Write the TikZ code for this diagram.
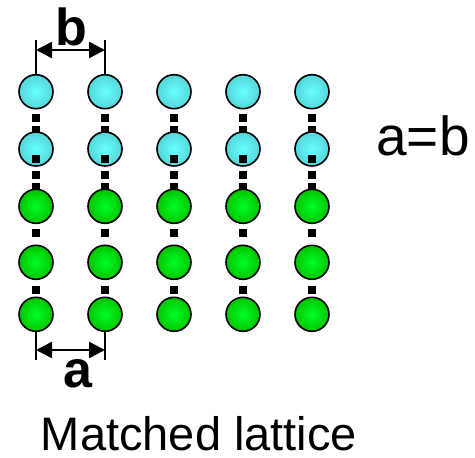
\documentclass[tikz,border=0pt]{standalone}
\usepackage{fontspec}
\setmainfont{Liberation Sans}
\usetikzlibrary{arrows.meta}

\definecolor{cyanin}{RGB}{104,255,255}
\definecolor{cyanout}{RGB}{84,214,218}
\definecolor{greenin}{RGB}{0,255,40}
\definecolor{greenout}{RGB}{0,196,0}

\tikzset{
  atom/.style={circle, draw=black, line width=1.6pt, minimum size=34pt, inner sep=0pt},
  topatom/.style={atom, inner color=cyanin, outer color=cyanout},
  botatom/.style={atom, inner color=greenin, outer color=greenout},
  bond/.style={fill=black, inner sep=0pt, minimum size=8pt},
  dimline/.style={line width=1.6pt},
  dimarrow/.style={line width=2.6pt, {Triangle[length=16pt,width=16pt]}-{Triangle[length=16pt,width=16pt]}},
}

\begin{document}
\begin{tikzpicture}[x=1pt, y=-1pt]
\useasboundingbox (0,0) rectangle (475,458);

% bonds hidden behind the next atom
\foreach \x/\c in {36/1, 105/2, 174/3, 243/4, 312/5} {
  \node (h1\c) [bond] at (\x,130) {};
  \node (h2\c) [bond] at (\x,187) {};
}

% atoms, column by column
\foreach \x/\c in {36/1, 105/2, 174/3, 243/4, 312/5} {
  \node (a\c r1) [topatom] at (\x,91.7) {};
  \node (a\c r2) [topatom] at (\x,149) {};
  \node (a\c r3) [botatom] at (\x,206.3) {};
  \node (a\c r4) [botatom] at (\x,262.3) {};
  \node (a\c r5) [botatom] at (\x,314.3) {};
}

% visible bonds
\foreach \x/\c in {36/1, 105/2, 174/3, 243/4, 312/5} {
  \node (b1\c) [bond] at (\x,117.7) {};
  \node (b2\c) [bond] at (\x,159) {};
  \node (b3\c) [bond] at (\x,175.3) {};
  \node (b4\c) [bond] at (\x,233) {};
  \node (b5\c) [bond] at (\x,290.3) {};
}

% spacing of the top layer
\coordinate (bl) at (36,40);
\coordinate (br) at (105,40);
\coordinate (bla) at (36,50);
\coordinate (bra) at (105,50);
\draw [dimline] (a1r1.north) -- (bl);
\draw [dimline] (a2r1.north) -- (br);
\draw [dimarrow] (bla) -- (bra);
\node (blabel) [anchor=base, font=\fontsize{52}{56}\selectfont\bfseries] at (71,45) {b};

% spacing of the substrate
\coordinate (al) at (36,360);
\coordinate (ar) at (105,360);
\coordinate (ala) at (36,350);
\coordinate (ara) at (105,350);
\draw [dimline] (a1r5.south) -- (al);
\draw [dimline] (a2r5.south) -- (ar);
\draw [dimarrow] (ala) -- (ara);
\node (alabel) [anchor=base, font=\fontsize{52}{56}\selectfont\bfseries] at (78,387) {a};

\node (eq) [anchor=base, font=\fontsize{55}{60}\selectfont] at (423,155) {a=b};
\node (title) [anchor=base, text depth=0pt, inner sep=1pt, font=\fontsize{47}{52}\selectfont] at (199,450) {Matched lattice};
\end{tikzpicture}
\end{document}
